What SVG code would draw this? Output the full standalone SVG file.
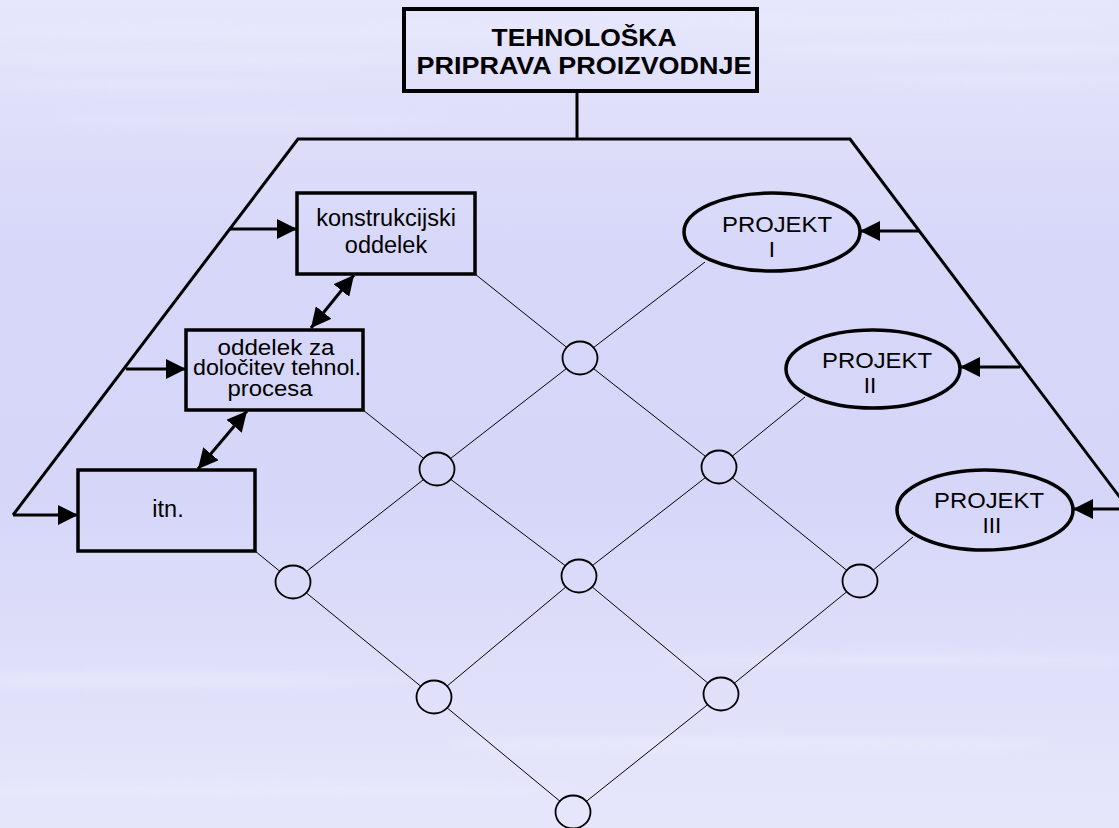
<svg xmlns="http://www.w3.org/2000/svg" width="1119" height="828" viewBox="0 0 1119 828">
<defs>
<linearGradient id="bg" x1="0" y1="0" x2="0" y2="1">
<stop offset="0" stop-color="#E6E6FC"/>
<stop offset="0.12" stop-color="#E0E0FA"/>
<stop offset="0.3" stop-color="#D7D7F9"/>
<stop offset="0.6" stop-color="#D6D6F9"/>
<stop offset="0.8" stop-color="#DFDFFA"/>
<stop offset="1" stop-color="#E6E6FB"/>
</linearGradient>
<filter id="blur" x="-20%" y="-300%" width="140%" height="700%"><feGaussianBlur stdDeviation="6 5"/></filter>
<marker id="ah" markerUnits="userSpaceOnUse" markerWidth="20" markerHeight="20" refX="20" refY="10" orient="auto-start-reverse" viewBox="0 0 20 20">
<path d="M0,0 L20,10 L0,20 Z" fill="#000"/>
</marker>
<mask id="holes" maskUnits="userSpaceOnUse" x="0" y="0" width="1119" height="828">
<rect x="0" y="0" width="1119" height="828" fill="#fff"/>
<g fill="#000">
<ellipse cx="580" cy="358" rx="17.5" ry="16.5"/>
<ellipse cx="437" cy="469" rx="17.5" ry="16.5"/>
<ellipse cx="719" cy="467" rx="17.5" ry="16.5"/>
<ellipse cx="293" cy="582" rx="17.5" ry="16.5"/>
<ellipse cx="579" cy="576" rx="17.5" ry="16.5"/>
<ellipse cx="860" cy="581" rx="17.5" ry="16.5"/>
<ellipse cx="434" cy="697" rx="17.5" ry="16.5"/>
<ellipse cx="721" cy="694" rx="17.5" ry="16.5"/>
<ellipse cx="573" cy="812" rx="17.5" ry="16.5"/>
</g>
</mask>
</defs>
<style>
.box{fill:none;stroke:#000;stroke-width:3.5}
.ell{fill:none;stroke:#000;stroke-width:3.5}
.node{fill:none;stroke:#000;stroke-width:1.8}
.thick{fill:none;stroke:#000;stroke-width:3}
.thin{fill:none;stroke:#000;stroke-width:1}
.arr{fill:none;stroke:#000;stroke-width:3;marker-end:url(#ah)}
.darr{fill:none;stroke:#000;stroke-width:3;marker-start:url(#ah);marker-end:url(#ah)}
text{font-family:"Liberation Sans",Arial,sans-serif;fill:#000;text-anchor:middle}
.t{font-size:23.5px}
.s{font-size:21.5px}
.p{font-size:22.5px}
.title{font-size:23px;font-weight:bold}
</style>
<rect x="0" y="0" width="1119" height="828" fill="url(#bg)"/>
<g filter="url(#blur)" fill="#F0F0FE" opacity="0.4">
<ellipse cx="300" cy="30" rx="320" ry="5"/>
<ellipse cx="850" cy="20" rx="260" ry="4"/>
<ellipse cx="200" cy="60" rx="220" ry="4"/>
<ellipse cx="950" cy="50" rx="200" ry="4"/>
<ellipse cx="150" cy="85" rx="180" ry="3"/>
<ellipse cx="1000" cy="80" rx="160" ry="3"/>
<ellipse cx="250" cy="120" rx="200" ry="3"/>
<ellipse cx="150" cy="680" rx="260" ry="6"/>
<ellipse cx="900" cy="660" rx="240" ry="5"/>
<ellipse cx="750" cy="745" rx="300" ry="7"/>
<ellipse cx="250" cy="790" rx="320" ry="7"/>
</g>

<g id="connectors">
<path class="thick" d="M577,91 L577,139"/>
<path class="thick" d="M13,515 L298,139 L850,139 L1140,524"/>
<path class="arr" d="M230,229 L297,229"/>
<path class="arr" d="M126,369 L186,369"/>
<path class="arr" d="M13,515 L78,515"/>
<path class="arr" d="M919,231 L860,231"/>
<path class="arr" d="M1020,367 L960,367"/>
<path class="arr" d="M1125,509 L1073,509"/>
<path class="darr" d="M354,275 L311,328"/>
<path class="darr" d="M247,411 L198,469"/>
<g mask="url(#holes)">
<path class="thin" d="M475,274 L580,358 L719,467 L860,581"/>
<path class="thin" d="M363,410 L437,469 L579,576 L721,694"/>
<path class="thin" d="M255,551 L293,582 L434,697 L573,812"/>
<path class="thin" d="M705,262 L580,358 L437,469 L293,582"/>
<path class="thin" d="M805,397 L719,467 L579,576 L434,697"/>
<path class="thin" d="M913,537 L860,581 L721,694 L573,812"/>
</g>
</g>

<g id="title">
<rect class="box" x="404" y="9" width="353" height="82" style="stroke-width:4"/>
<text class="title" x="584" y="46" textLength="185" lengthAdjust="spacingAndGlyphs">TEHNOLOŠKA</text>
<text class="title" x="584" y="74" textLength="335" lengthAdjust="spacingAndGlyphs">PRIPRAVA PROIZVODNJE</text>
</g>

<g id="konstrukcijski">
<rect class="box" x="297" y="193" width="178" height="81"/>
<text class="t" x="386" y="226">konstrukcijski</text>
<text class="t" x="386" y="253">oddelek</text>
</g>

<g id="tehnol">
<rect class="box" x="186" y="330" width="177" height="80"/>
<text class="s" x="276" y="355" textLength="117" lengthAdjust="spacingAndGlyphs">oddelek za</text>
<text class="s" x="277" y="375" textLength="168" lengthAdjust="spacingAndGlyphs">določitev tehnol.</text>
<text class="s" x="270" y="396" textLength="85" lengthAdjust="spacingAndGlyphs">procesa</text>
</g>

<g id="itn">
<rect class="box" x="78" y="470" width="177" height="81"/>
<text class="t" x="168" y="517">itn.</text>
</g>

<g id="projekt1">
<ellipse class="ell" cx="772" cy="232" rx="88" ry="39"/>
<text class="p" x="777" y="232" textLength="110" lengthAdjust="spacingAndGlyphs">PROJEKT</text>
<text class="p" x="772" y="257">I</text>
</g>

<g id="projekt2">
<ellipse class="ell" cx="873" cy="369" rx="87" ry="39"/>
<text class="p" x="877" y="368" textLength="110" lengthAdjust="spacingAndGlyphs">PROJEKT</text>
<text class="p" x="870" y="393">II</text>
</g>

<g id="projekt3">
<ellipse class="ell" cx="985" cy="510" rx="88" ry="40"/>
<text class="p" x="989" y="508" textLength="110" lengthAdjust="spacingAndGlyphs">PROJEKT</text>
<text class="p" x="992" y="533">III</text>
</g>

<g id="nodes">
<ellipse id="n1" class="node" cx="580" cy="358" rx="17.5" ry="16.5"/>
<ellipse id="n2" class="node" cx="437" cy="469" rx="17.5" ry="16.5"/>
<ellipse id="n3" class="node" cx="719" cy="467" rx="17.5" ry="16.5"/>
<ellipse id="n4" class="node" cx="293" cy="582" rx="17.5" ry="16.5"/>
<ellipse id="n5" class="node" cx="579" cy="576" rx="17.5" ry="16.5"/>
<ellipse id="n6" class="node" cx="860" cy="581" rx="17.5" ry="16.5"/>
<ellipse id="n7" class="node" cx="434" cy="697" rx="17.5" ry="16.5"/>
<ellipse id="n8" class="node" cx="721" cy="694" rx="17.5" ry="16.5"/>
<ellipse id="n9" class="node" cx="573" cy="812" rx="17.5" ry="16.5"/>
</g>
</svg>
